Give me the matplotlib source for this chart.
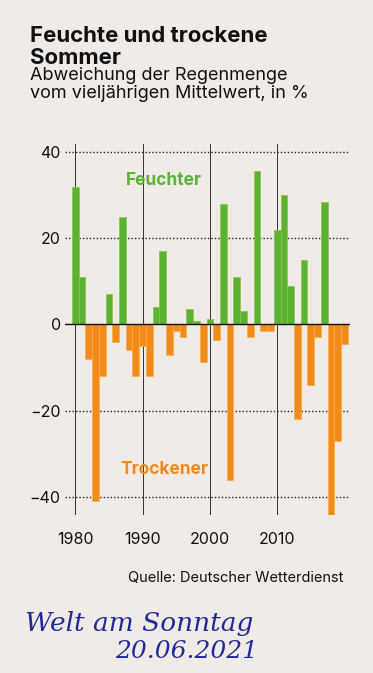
import numpy as np
import matplotlib
matplotlib.use("Agg")
from matplotlib import pyplot as plt

# Abweichung der Regenmenge im Sommer, in %
jahre = list(range(1980, 2021))
werte = [32, 11, -8, -41, -12, 7, -4, 25, -6, -12,
         -5, -12, 4, 17, -7, -1.5, -3, 3.5, 0.7, -8.7,
         1.3, -3.6, 28, -36, 11, 3.2, -2.8, 35.5, -1.5, -1.5,
         22, 30, 9, -22, 15, -14, -3, 28.5, -46, -27,
         -4.6]
y_ticks = [-40, -20, 0, 20, 40]
x_ticks = [1980, 1990, 2000, 2010]

W, H = 373, 673
bg = '#f1ebe7'
gruen = '#5ab332'
orange = '#f28a1c'

plt.rcParams['font.family'] = ['Inter', 'DejaVu Sans']

fig = plt.figure(figsize=(W / 100, H / 100), dpi=100, facecolor=bg)
ax = fig.add_axes([65 / W, 1 - 515 / H, 285 / W, 371 / H])
ax.set_facecolor(bg)

farben = [gruen if v >= 0 else orange for v in werte]
kanten = ['#8cc63f' if v >= 0 else '#f7b23b' for v in werte]
ax.bar(jahre, werte, width=1.0, color=farben, edgecolor=kanten, linewidth=0.5, zorder=3)

for t in y_ticks:
    if t != 0:
        ax.axhline(t, color='#222222', lw=1.0, ls=(0, (1, 1.5)), zorder=1)
ax.axhline(0, color='#111111', lw=1.0, zorder=4)
for t in x_ticks:
    ax.axvline(t, color='#333333', lw=0.7, zorder=2)

ax.set_xlim(1978.47, 2020.82)
ax.set_ylim(-44.2, 41.86)
ax.set_yticks(y_ticks)
ax.set_yticklabels([str(t).replace('-', '\u2212') for t in y_ticks])
ax.set_xticks(x_ticks)
for s in ax.spines.values():
    s.set_visible(False)
ax.tick_params(axis='y', length=0, pad=3, labelsize=11.5, labelcolor='#111111')
ax.tick_params(axis='x', length=0, pad=12, labelsize=11.5, labelcolor='#111111')

ax.text(1993.2, 33.3, 'Feuchter', color=gruen, fontsize=12.5, fontweight='bold',
        ha='center', va='center')
ax.text(1993.3, -33.6, 'Trockener', color=orange, fontsize=12.5, fontweight='bold',
        ha='center', va='center')

fig.text(30 / W, 1 - 26 / H, 'Feuchte und trockene\nSommer', fontsize=16,
         fontweight='bold', color='#111111', va='top', ha='left', linespacing=1.12)
fig.text(30 / W, 1 - 67 / H, 'Abweichung der Regenmenge\nvom vieljährigen Mittelwert, in %',
         fontsize=13, color='#111111', va='top', ha='left', linespacing=1.08)
fig.text(343 / W, 1 - 578 / H, 'Quelle: Deutscher Wetterdienst', fontsize=10.5,
         color='#111111', ha='right', va='center')

fig.text(25 / W, 1 - 624 / H, 'Welt am Sonntag', fontsize=19, color='#1f2a9c',
         style='italic', family='DejaVu Serif', ha='left', va='center')
fig.text(115 / W, 1 - 652 / H, '20.06.2021', fontsize=18, color='#1f2a9c',
         style='italic', family='DejaVu Serif', ha='left', va='center')

fig.savefig('out.png', dpi=100, facecolor=bg)
